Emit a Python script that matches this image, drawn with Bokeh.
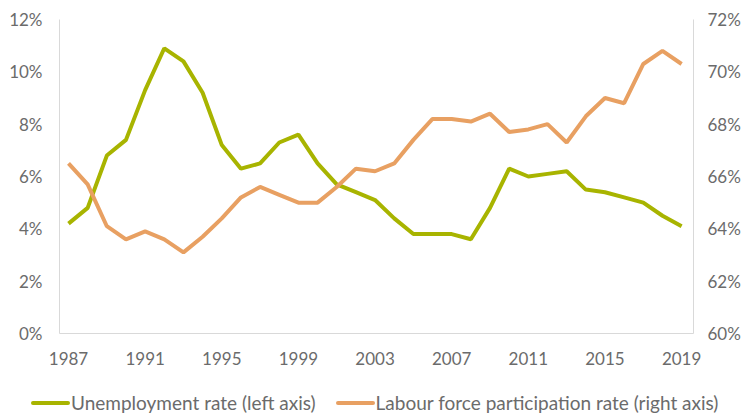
from bokeh.plotting import figure
from bokeh.layouts import column
from bokeh.models import Range1d, LinearAxis, FixedTicker, PrintfTickFormatter, Div
from bokeh.embed import file_html
from bokeh.resources import INLINE

years = list(range(1987, 2020))
unemployment = [4.2, 4.8, 6.8, 7.4, 9.3, 10.9, 10.4, 9.2, 7.2, 6.3, 6.5, 7.3, 7.6, 6.5, 5.7, 5.4, 5.1,
                4.4, 3.8, 3.8, 3.8, 3.6, 4.8, 6.3, 6.0, 6.1, 6.2, 5.5, 5.4, 5.2, 5.0, 4.5, 4.1]
participation = [66.5, 65.7, 64.1, 63.6, 63.9, 63.6, 63.1, 63.7, 64.4, 65.2, 65.6, 65.3, 65.0, 65.0, 65.6,
                 66.3, 66.2, 66.5, 67.4, 68.2, 68.2, 68.1, 68.4, 67.7, 67.8, 68.0, 67.3, 68.3, 69.0, 68.8,
                 70.3, 70.8, 70.3]
x_ticks = [1987, 1991, 1995, 1999, 2003, 2007, 2011, 2015, 2019]
left_ticks = [0, 2, 4, 6, 8, 10, 12]
right_ticks = [60, 62, 64, 66, 68, 70, 72]
series_labels = ["Unemployment rate (left axis)", "Labour force participation rate (right axis)"]

FONT = "Lato"
TXT = "#6b6b6b"
AXC = "#d9d9d9"
GREEN = "#a8b400"
ORANGE = "#e8a062"
series_colors = [GREEN, ORANGE]

p = figure(output_backend="svg", toolbar_location=None,
           frame_width=634, frame_height=314,
           x_range=Range1d(1986.53, 2019.62), y_range=Range1d(0, 12),
           min_border_left=59, min_border_right=49, min_border_top=19, min_border_bottom=50)
p.extra_y_ranges = {"right": Range1d(60, 72)}
p.outline_line_color = None
p.xgrid.visible = False
p.ygrid.visible = False

def style(ax, fs="17px"):
    ax.axis_line_color = AXC
    ax.axis_line_width = 1
    ax.major_tick_line_color = None
    ax.minor_tick_line_color = None
    ax.major_tick_out = 0
    ax.major_tick_in = 0
    ax.minor_tick_out = 0
    ax.minor_tick_in = 0
    ax.major_label_text_font = FONT
    ax.major_label_text_color = TXT
    ax.major_label_text_font_size = fs

p.xaxis.ticker = FixedTicker(ticks=x_ticks)
style(p.xaxis[0])
p.xaxis.major_label_standoff = 18
p.yaxis.ticker = FixedTicker(ticks=left_ticks)
p.yaxis.formatter = PrintfTickFormatter(format="%d%%")
style(p.yaxis[0])
p.yaxis.major_label_standoff = 17

ra = LinearAxis(y_range_name="right", ticker=FixedTicker(ticks=right_ticks),
                formatter=PrintfTickFormatter(format="%d%%"))
style(ra)
ra.major_label_standoff = 14
p.add_layout(ra, "right")

p.line(years, unemployment, line_color=GREEN, line_width=4)
p.line(years, participation, line_color=ORANGE, line_width=4, y_range_name="right")

# legend strip (HTML) below the chart
items_html = ""
for i, (lab, col) in enumerate(zip(series_labels, series_colors)):
    ml = "20px" if i > 0 else "0px"
    items_html += (f'<span style="display:inline-block;width:39px;height:4px;border-radius:2px;'
                   f'background:{col};margin-left:{ml};margin-right:1px;"></span>'
                   f'<span>{lab}</span>')
legend_html = (f'<div style="display:flex;align-items:center;padding-left:31px;padding-top:10px;'
               f'font-family:{FONT};font-size:19px;line-height:19px;color:{TXT};white-space:nowrap;">'
               f'{items_html}</div>')
leg = Div(text=legend_html, width=742, height=31, margin=(0, 0, 0, 0))

layout = column(p, leg, spacing=0)
open("out.html", "w").write(file_html(layout, INLINE))
